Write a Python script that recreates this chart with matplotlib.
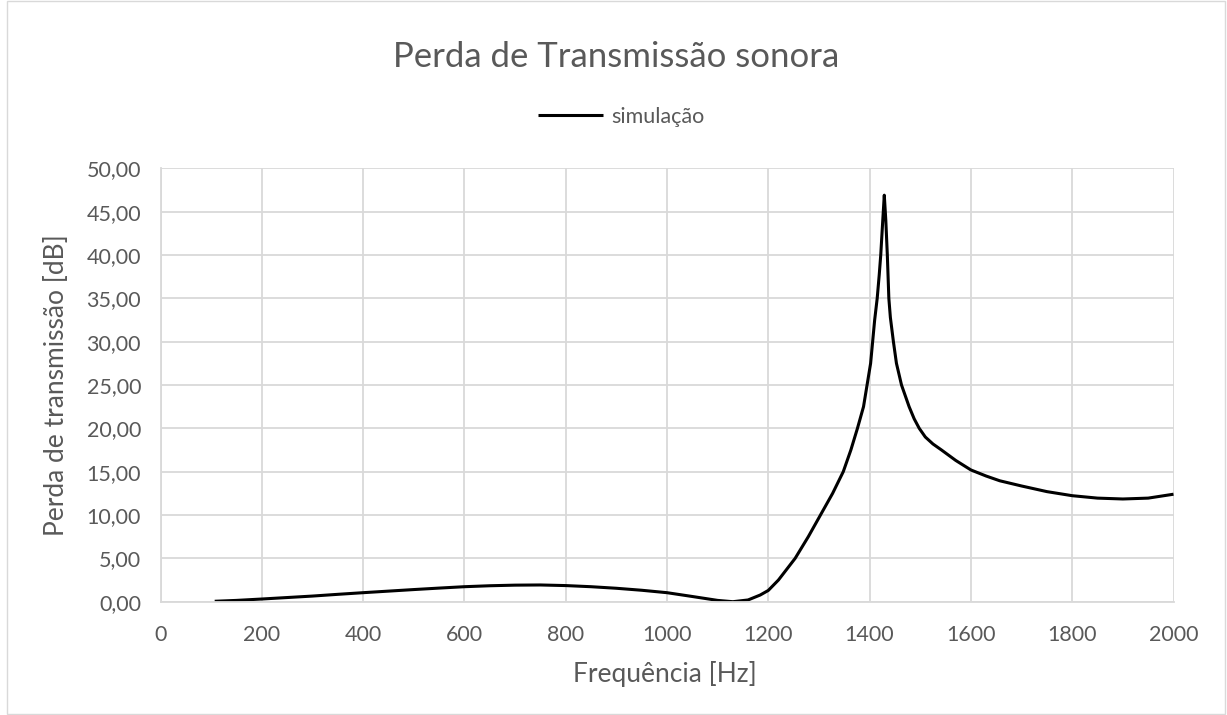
import matplotlib
matplotlib.use("Agg")
import matplotlib.pyplot as plt
from matplotlib.patches import Rectangle
from matplotlib.ticker import FuncFormatter, MultipleLocator

freq_hz = [107, 150, 200, 250, 300, 350, 400, 450, 500, 550, 600, 650, 700,
           750, 800, 850, 900, 950, 1000, 1050, 1100, 1130, 1160, 1184, 1200,
           1220, 1253, 1279, 1303, 1327, 1348, 1363, 1376, 1388, 1395, 1402,
           1406, 1410, 1415, 1419, 1422, 1426, 1429, 1432, 1435, 1438, 1441,
           1447, 1453, 1463, 1478, 1488, 1498, 1510, 1525, 1542, 1570, 1600,
           1630, 1657, 1700, 1750, 1800, 1850, 1900, 1950, 2000]
perda_db = [0.05, 0.15, 0.31, 0.48, 0.65, 0.85, 1.04, 1.22, 1.40, 1.57, 1.73,
            1.84, 1.91, 1.93, 1.86, 1.73, 1.55, 1.32, 1.04, 0.60, 0.15, 0.0,
            0.2, 0.77, 1.3, 2.5, 5.0, 7.5, 10.0, 12.5, 15.0, 17.5, 20.0, 22.5,
            25.0, 27.5, 30.0, 32.5, 35.0, 37.7, 40.0, 44.0, 46.9, 44.0, 40.0,
            35.0, 32.8, 30.0, 27.5, 25.0, 22.5, 21.1, 20.0, 19.0, 18.2, 17.5,
            16.3, 15.2, 14.5, 13.95, 13.35, 12.7, 12.23, 11.95, 11.85, 11.95,
            12.4]

title = "Perda de Transmissão sonora"
series_label = "simulação"
x_label = "Frequência [Hz]"
y_label = "Perda de transmissão [dB]"

plt.rcParams['font.family'] = ['Lato', 'DejaVu Sans']
txt = '#595959'
grid_c = '#d9d9d9'

fig = plt.figure(figsize=(12.27, 7.15), dpi=100)
fig.patches.append(Rectangle((7 / 1227, 0.001), 1218 / 1227, 0.998,
                             transform=fig.transFigure, fill=False,
                             edgecolor='#d9d9d9', linewidth=1.0))
ax = fig.add_axes([160.5 / 1227, (715 - 601.7) / 715,
                   1013 / 1227, 433.4 / 715])
ax.plot(freq_hz, perda_db, color='black', linewidth=2.2,
        solid_joinstyle='round', solid_capstyle='butt', label=series_label)
ax.set_xlim(0, 2000)
ax.set_ylim(0, 50)
ax.xaxis.set_major_locator(MultipleLocator(200))
ax.yaxis.set_major_locator(MultipleLocator(5))
ax.yaxis.set_major_formatter(FuncFormatter(lambda v, p: f"{v:.2f}".replace('.', ',')))
ax.grid(True, color=grid_c, linewidth=1.3)
ax.set_axisbelow(True)
for s in ax.spines.values():
    s.set_visible(False)
for side in ('left', 'bottom'):
    ax.spines[side].set_visible(True)
    ax.spines[side].set_color(grid_c)
    ax.spines[side].set_linewidth(1.3)
ax.tick_params(length=0, labelsize=15.5, colors=txt)
ax.tick_params(axis='y', pad=14)
ax.tick_params(axis='x', pad=17)
ax.set_xlabel(x_label, fontsize=19, color=txt)
ax.set_ylabel(y_label, fontsize=19, color=txt)
ax.xaxis.label.set_va('center')
ax.yaxis.label.set_va('center')
ax.xaxis.set_label_coords(0.5 + (665 - 667) / 1013, (601.7 - 674) / 433.4)
ax.yaxis.set_label_coords((57 - 160.5) / 1013, 0.5)
fig.text(616.5 / 1227, 1 - 57 / 715, title, ha='center', va='center',
         fontsize=25, color=txt)
leg = ax.legend(loc='center', bbox_to_anchor=(621.5 / 1227, 1 - 117 / 715),
                bbox_transform=fig.transFigure, frameon=False,
                fontsize=15.5, handlelength=3.0, handletextpad=0.4,
                borderpad=0, borderaxespad=0)
for t in leg.get_texts():
    t.set_color(txt)
fig.savefig("out.png", dpi=100)
